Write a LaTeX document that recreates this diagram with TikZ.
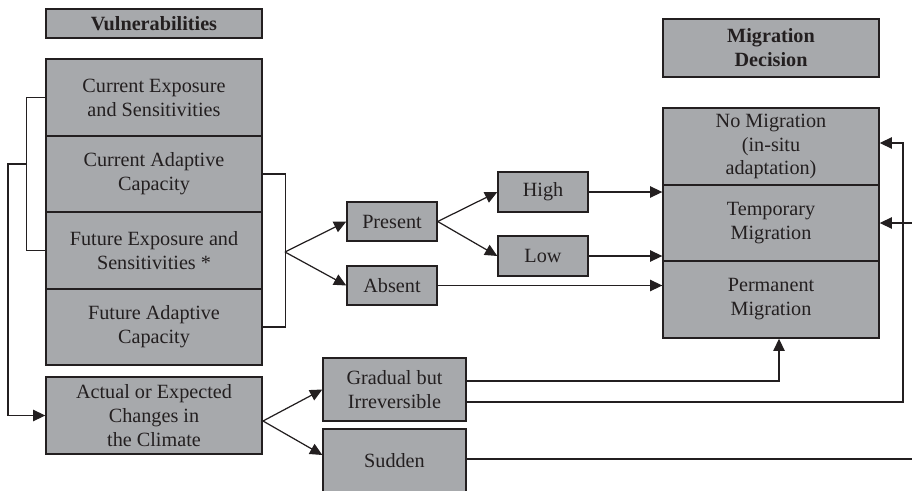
\documentclass[tikz,border=0pt]{standalone}
\usepackage{fontspec}
\setmainfont{Liberation Serif}
\usetikzlibrary{arrows.meta,calc}

\definecolor{boxgray}{HTML}{A7A9AC}
\definecolor{inkgray}{HTML}{231F20}

\tikzset{
  cell/.style={draw=inkgray, fill=boxgray, line width=0.8pt, align=center,
    inner sep=0pt, text=inkgray, font=\fontsize{11.5}{13.6}\selectfont},
  stackbox/.style={cell, minimum width=4.32cm},
  headbox/.style={stackbox, font=\fontsize{11.5}{13.6}\selectfont\bfseries},
  tagbox/.style={cell, minimum width=1.8cm, minimum height=0.8cm},
  link/.style={draw=inkgray, line width=0.7pt},
  arr/.style={link, -{Triangle[length=7pt,width=6.5pt]}}
}

\begin{document}
\begin{tikzpicture}[x=0.02cm, y=-0.02cm]
\useasboundingbox (0,0) rectangle (912,490);

% Vulnerabilities column
\node[headbox, minimum height=0.58cm] (vuln) at (154,23.5) {Vulnerabilities};
\node[stackbox, minimum height=1.54cm] (curexp) at (154,97.5) {Current Exposure\\and Sensitivities};
\node[stackbox, minimum height=1.52cm] (curcap) at (154,174) {Current Adaptive\\Capacity};
\node[stackbox, minimum height=1.54cm] (futexp) at (154,250.5) {Future Exposure and\\Sensitivities *};
\node[stackbox, minimum height=1.52cm] (futcap) at (154,327) {Future Adaptive\\Capacity};
\node[stackbox, minimum height=1.54cm] (climate) at (154,415.5) {Actual or Expected\\Changes in\\the Climate};

% Middle boxes
\node[tagbox, minimum height=0.78cm] (present) at (392,221.5) {Present};
\node[tagbox, minimum height=0.78cm] (absent) at (392,285.5) {Absent};
\node[tagbox] (high) at (543,192) {High};
\node[tagbox] (low) at (543,256) {Low};
\node[cell, minimum width=2.86cm, minimum height=1.26cm] (gradual) at (394.5,389.5) {Gradual but\\Irreversible};
\node[cell, minimum width=2.86cm, minimum height=1.28cm] (sudden) at (394.5,461) {Sudden};

% Migration decision column
\node[headbox, minimum height=1.16cm] (migdec) at (771,48) {Migration\\Decision};
\node[stackbox, minimum height=1.54cm] (nomig) at (771,146.5) {No Migration\\(in-situ\\adaptation)};
\node[stackbox, minimum height=1.52cm] (tempmig) at (771,223) {Temporary\\Migration};
\node[stackbox, minimum height=1.54cm] (permmig) at (771,299.5) {Permanent\\Migration};

% Left bracket and feedback to climate
\draw[link] (curexp.west) -- ++(-19,0) |- (futexp.west);
\coordinate (lbmid) at (27,164);
\draw[arr] (lbmid) -- (8,164) |- (climate.west);

% Right bracket and fork
\draw[link] (curcap.east) -- ++(23,0) |- (futcap.east);
\coordinate (vfork) at (285,252);
\draw[arr] (vfork) -- (present.west);
\draw[arr] (vfork) -- (absent.west);
\draw[arr] (present.east) -- (high.west);
\draw[arr] (present.east) -- (low.west);
\draw[arr] (high.east) -- (high.east -| tempmig.west);
\draw[arr] (low.east) -- (low.east -| tempmig.west);
\draw[arr] (absent.east) -- (absent.east -| permmig.west);

% Climate fork
\coordinate (cfork) at (263,421);
\draw[arr] (cfork) -- (gradual.west);
\draw[arr] (cfork) -- ($(sudden.west)+(0,-6)$);

% Gradual change
\draw[arr] ($(gradual.east)+(0,-8.5)$) -| ($(permmig.south)+(8,0)$);
\coordinate (rtop) at (903,143);
\draw[arr] ($(gradual.east)+(0,12.5)$) -| (rtop) -- (rtop -| nomig.east);

% Sudden change, leaves the frame
\coordinate (sudout) at (912,459);
\draw[link] (sudden.east |- sudout) -- (sudout);
\coordinate (tempin) at (912,223);
\draw[arr] (tempin) -- (tempmig.east);
\end{tikzpicture}
\end{document}
